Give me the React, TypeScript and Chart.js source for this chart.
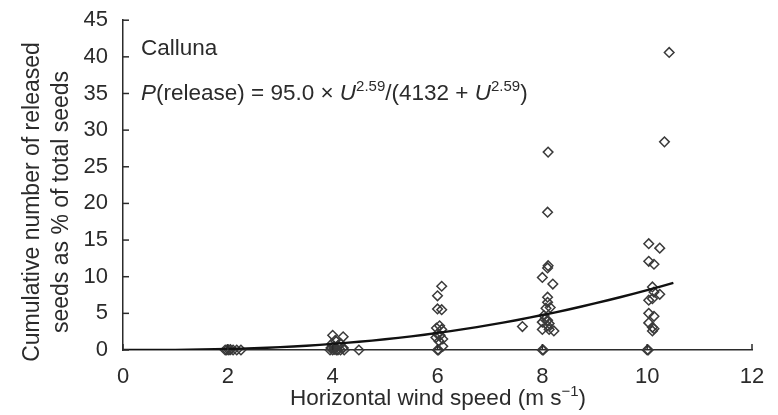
import React, { useEffect, useRef } from 'react';
import { Chart, registerables } from 'chart.js';

Chart.register(...registerables);

// Observed seed release (%), by horizontal wind speed (m/s)
const windX = [
  1.95, 1.98, 2.02, 2.05, 2.1, 2.17, 2.25,
  3.95, 4.0, 4.03, 4.07, 4.1, 4.15, 4.22, 4.5, 4.0, 4.2, 4.05, 4.15, 3.98, 4.1, 4.03, 3.97, 4.2,
  6.08, 6.0, 6.0, 6.08, 6.04, 5.98, 6.08, 6.0, 6.05, 5.97, 6.1, 6.03, 6.1, 6.0, 6.02,
  8.11, 8.1, 8.11, 8.1, 8.0, 8.2, 8.1, 8.1, 8.07, 8.15, 8.03, 8.1, 8.0, 8.13, 8.0, 8.13, 8.22, 7.62, 8.05, 8.1, 8.0, 8.02,
  10.42, 10.33, 10.03, 10.24, 10.03, 10.13, 10.1, 10.13, 10.24, 10.03, 10.1, 10.03, 10.13, 10.03, 10.1, 10.13, 10.1, 10.0, 10.02,
];
const releasePct = [
  0, 0, 0, 0.05, 0, 0, 0,
  0, 0, 0.1, 0, 0, 0, 0, 0, 2.0, 1.8, 1.3, 0.9, 0.8, 0.6, 0.5, 0.3, 0.3,
  8.7, 7.4, 5.6, 5.5, 3.3, 3.0, 2.8, 2.2, 2.0, 1.7, 1.5, 1.2, 0.5, 0, 0,
  27.0, 18.8, 11.5, 11.2, 9.9, 9.0, 7.2, 6.5, 5.7, 5.8, 4.7, 4.05, 3.8, 3.6, 2.8, 2.8, 2.6, 3.2, 4.2, 3.3, 0, 0,
  40.6, 28.4, 14.5, 13.9, 12.1, 11.7, 8.6, 7.9, 7.6, 6.8, 7.0, 5.0, 4.6, 3.7, 3.1, 2.9, 2.6, 0, 0,
];

// Fitted curve
const curveU = [0, 1, 1.5, 2, 2.5, 3, 3.5, 4, 4.5, 5, 5.5, 6, 6.5, 7, 7.5, 8, 8.5, 9, 9.5, 10, 10.5];
const curveP = [0, 0.02, 0.06, 0.14, 0.25, 0.39, 0.58, 0.83, 1.12, 1.46, 1.86, 2.33, 2.84, 3.42, 4.06, 4.77, 5.53, 6.36, 7.23, 8.17, 9.15];

const xTicks = [0, 2, 4, 6, 8, 10, 12];
const yTicks = [0, 5, 10, 15, 20, 25, 30, 35, 40, 45];

const FONT = "'Liberation Sans', Arial, Helvetica, sans-serif";
const INK = '#2b2b2b';

type Run = { text: string; italic?: boolean; sup?: boolean };

function drawRuns(ctx: CanvasRenderingContext2D, runs: Run[], x: number, y: number, size: number, supSize: number, align: 'left' | 'center') {
  const fontFor = (r: Run) => `${r.italic ? 'italic ' : ''}${r.sup ? supSize : size}px ${FONT}`;
  let total = 0;
  runs.forEach((r) => {
    ctx.font = fontFor(r);
    total += ctx.measureText(r.text).width;
  });
  let cx = align === 'center' ? x - total / 2 : x;
  ctx.textAlign = 'left';
  ctx.textBaseline = 'alphabetic';
  runs.forEach((r) => {
    ctx.font = fontFor(r);
    ctx.fillText(r.text, cx, r.sup ? y - size * 0.38 : y);
    cx += ctx.measureText(r.text).width;
  });
}

const figurePlugin = {
  id: 'figurePlugin',
  afterDraw(chart: any) {
    const ctx: CanvasRenderingContext2D = chart.ctx;
    const { left, bottom } = chart.chartArea;
    const xs = chart.scales.x;
    const ys = chart.scales.y;
    ctx.save();
    ctx.strokeStyle = INK;
    ctx.lineWidth = 1.5;
    xTicks.forEach((v) => {
      const px = xs.getPixelForValue(v);
      ctx.beginPath();
      ctx.moveTo(px, bottom);
      ctx.lineTo(px, bottom - 6);
      ctx.stroke();
    });
    yTicks.forEach((v) => {
      const py = ys.getPixelForValue(v);
      ctx.beginPath();
      ctx.moveTo(left, py);
      ctx.lineTo(left + 6, py);
      ctx.stroke();
    });

    ctx.fillStyle = INK;
    // Annotation
    drawRuns(ctx, [{ text: 'Calluna' }], 141, 55, 22.5, 15, 'left');
    drawRuns(
      ctx,
      [
        { text: 'P', italic: true },
        { text: '(release) = 95.0 × ' },
        { text: 'U', italic: true },
        { text: '2.59', sup: true },
        { text: '/(4132 + ' },
        { text: 'U', italic: true },
        { text: '2.59', sup: true },
        { text: ')' },
      ],
      141,
      100,
      22.5,
      15,
      'left'
    );

    // X title
    drawRuns(
      ctx,
      [{ text: 'Horizontal wind speed (m s' }, { text: '−1', sup: true }, { text: ')' }],
      438,
      405,
      22.5,
      15,
      'center'
    );

    // Y title
    ctx.save();
    ctx.translate(0, 202);
    ctx.rotate(-Math.PI / 2);
    ctx.font = `23px ${FONT}`;
    ctx.textAlign = 'center';
    ctx.textBaseline = 'alphabetic';
    ctx.fillText('Cumulative number of released', 0, 39);
    ctx.fillText('seeds as % of total seeds', 0, 68);
    ctx.restore();
    ctx.restore();
  },
};

export default function App() {
  const ref = useRef<HTMLCanvasElement | null>(null);

  useEffect(() => {
    if (!ref.current) return;
    const points = windX.map((x, i) => ({ x, y: releasePct[i] }));
    const curve = curveU.map((x, i) => ({ x, y: curveP[i] }));
    const chart = new Chart(ref.current, {
      type: 'scatter',
      data: {
        datasets: [
          {
            type: 'line',
            data: curve,
            borderColor: '#111',
            borderWidth: 2.4,
            pointRadius: 0,
            tension: 0.3,
            fill: false,
            order: 1,
          } as any,
          {
            data: points,
            pointStyle: 'rectRot',
            pointRadius: 4.8,
            pointBorderWidth: 1.5,
            pointBorderColor: '#3a3a3a',
            pointBackgroundColor: 'rgba(0,0,0,0)',
            clip: false,
            order: 2,
          } as any,
        ],
      },
      options: {
        responsive: false,
        animation: false,
        layout: { padding: { top: 16, right: 26, left: 0, bottom: 0 } },
        plugins: { legend: { display: false }, tooltip: { enabled: false }, title: { display: false } },
        scales: {
          x: {
            type: 'linear',
            min: 0,
            max: 12,
            grid: { display: false },
            border: { display: true, color: INK, width: 1.5 },
            ticks: { stepSize: 2, color: INK, padding: 6, font: { family: FONT, size: 22 } },
            afterFit: (s: any) => {
              s.height = 65;
            },
          },
          y: {
            type: 'linear',
            min: 0,
            max: 45,
            grid: { display: false },
            border: { display: true, color: INK, width: 1.5 },
            ticks: { stepSize: 5, color: INK, padding: 7, font: { family: FONT, size: 22 } },
            afterFit: (s: any) => {
              s.width = 123;
            },
          },
        },
      },
      plugins: [figurePlugin],
    });
    return () => chart.destroy();
  }, []);

  return (
    <div style={{ position: 'absolute', left: 0, top: 0, width: 778, height: 415, background: '#fff' }}>
      <canvas ref={ref} width={778} height={415} style={{ display: 'block' }} />
    </div>
  );
}
